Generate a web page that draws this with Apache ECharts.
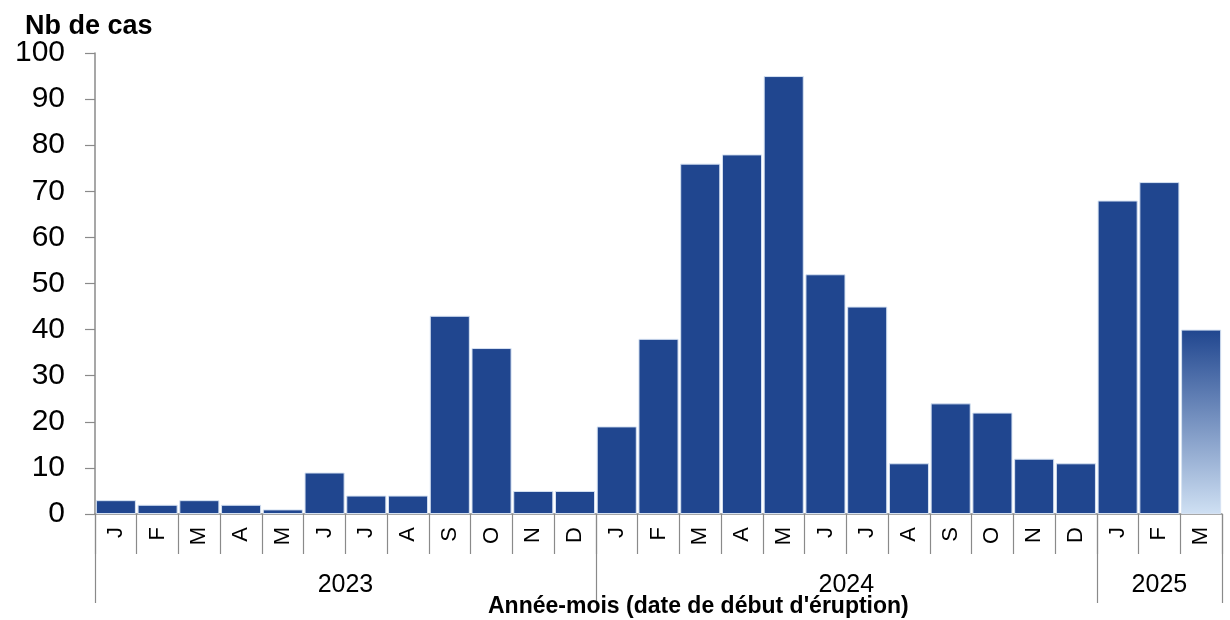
<!DOCTYPE html>
<html>
<head>
<meta charset="utf-8">
<script src="https://cdn.jsdelivr.net/npm/echarts@6/dist/echarts.min.js"></script>
<style>
  html, body { margin: 0; padding: 0; background: #fff; }
  #chart { width: 1230px; height: 620px; }
</style>
</head>
<body>
<div id="chart"></div>
<script>
// Cas mensuels par mois de début d'éruption, janv. 2023 – mars 2025
const months = ['J','F','M','A','M','J','J','A','S','O','N','D',
                'J','F','M','A','M','J','J','A','S','O','N','D',
                'J','F','M'];
const cases = [3, 2, 3, 2, 1, 9, 4, 4, 43, 36, 5, 5,
               19, 38, 76, 78, 95, 52, 45, 11, 24, 22, 12, 11,
               68, 72, 40];
const years = ['2023', '2024', '2025'];
const monthsPerYear = [12, 12, 3];
// le dernier mois est incomplet (données provisoires)
const provisional = [26];
const yTicks = [0, 10, 20, 30, 40, 50, 60, 70, 80, 90, 100];

const FONT = "'Liberation Sans', Arial, Helvetica, sans-serif";
const BAR = '#20468f';
const AXIS = '#8a8a8a';

// bornes et centres des années sur l'axe des mois
const yearBounds = [0];
monthsPerYear.forEach(n => yearBounds.push(yearBounds[yearBounds.length - 1] + n));
const yearCenters = years.map((y, i) => (yearBounds[i] + yearBounds[i + 1]) / 2);

const barData = cases.map((v, i) => provisional.includes(i) ? {
  value: v,
  itemStyle: {
    color: {
      type: 'linear', x: 0, y: 0, x2: 0, y2: 1,
      colorStops: [
        { offset: 0, color: BAR },
        { offset: 1, color: '#cfe0f3' }
      ]
    }
  }
} : v);

const chart = echarts.init(document.getElementById('chart'), null, { renderer: 'canvas' });
chart.setOption({
  animation: false,
  backgroundColor: '#fff',
  title: [
    {
      text: 'Nb de cas', left: 20, top: 8,
      textStyle: { fontFamily: FONT, fontSize: 27, fontWeight: 'bold', color: '#000' }
    },
    {
      text: "Année-mois (date de début d'éruption)", left: 483, top: 590,
      textStyle: { fontFamily: FONT, fontSize: 23, fontWeight: 'bold', color: '#000' }
    }
  ],
  grid: { left: 95, right: 8, top: 53, bottom: 106, containLabel: false },
  xAxis: [
    {
      type: 'category',
      data: months,
      position: 'bottom',
      axisLine: { show: true, lineStyle: { color: AXIS, width: 1.5 } },
      axisTick: { show: true, interval: 0, length: 40, lineStyle: { color: AXIS, width: 1.2 } },
      axisLabel: {
        interval: 0, rotate: 90, margin: 13,
        fontFamily: FONT, fontSize: 22, color: '#000'
      },
      splitLine: { show: false }
    },
    {
      type: 'value',
      min: 0,
      max: yearBounds[yearBounds.length - 1],
      position: 'bottom',
      axisLine: { show: false },
      axisTick: {
        show: true, length: 89, customValues: yearBounds,
        lineStyle: { color: AXIS, width: 1.2 }
      },
      axisLabel: {
        customValues: yearCenters,
        formatter: v => years[yearCenters.indexOf(v)] || '',
        margin: 59,
        fontFamily: FONT, fontSize: 25, color: '#000'
      },
      splitLine: { show: false }
    }
  ],
  yAxis: {
    type: 'value',
    min: 0, max: 100, interval: 10,
    axisLine: { show: true, lineStyle: { color: AXIS, width: 1.5 } },
    axisTick: { show: true, length: 10, lineStyle: { color: AXIS, width: 1.2 } },
    axisLabel: {
      margin: 30, fontFamily: FONT, fontSize: 30, color: '#000',
      formatter: v => yTicks.includes(v) ? String(v) : ''
    },
    splitLine: { show: false }
  },
  series: [
    {
      type: 'bar',
      xAxisIndex: 0,
      data: barData,
      barCategoryGap: '4%',
      itemStyle: { color: BAR, borderColor: '#d6e2f2', borderWidth: 1 }
    }
  ]
});
</script>
</body>
</html>
